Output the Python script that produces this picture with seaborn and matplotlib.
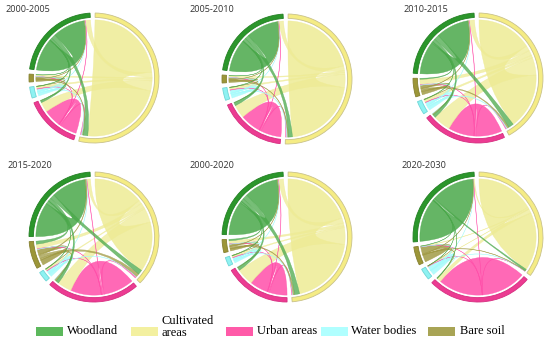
import numpy as np
import matplotlib
matplotlib.use("Agg")
import matplotlib.pyplot as plt
from matplotlib.path import Path
from matplotlib.patches import PathPatch, Rectangle, Wedge
import seaborn as sns

# class order round the circle, clockwise from the top
classes = ["Cultivated areas", "Urban areas", "Water bodies", "Bare soil", "Woodland"]
periods = ["2000-2005", "2005-2010", "2010-2015", "2015-2020", "2000-2020", "2020-2030"]

# land transfer matrices (rows = from, cols = to), same order as classes
m_2000_2005 = [[82, 10, 2, 1.5, 5],
               [1, 17, 0.3, 0.3, 0.5],
               [1, 0.3, 2.5, 0.2, 0.3],
               [0.8, 0.3, 0.2, 1.5, 0.3],
               [4.5, 2, 0.5, 0.3, 32]]
m_2005_2010 = [[74, 13, 2, 1.5, 4.5],
               [1, 20, 0.3, 0.3, 0.5],
               [1, 0.3, 3, 0.2, 0.3],
               [0.8, 0.3, 0.2, 1.5, 0.3],
               [4, 3, 0.5, 0.3, 31.5]]
m_2010_2015 = [[54, 17, 2.5, 5, 5],
               [1, 25, 0.3, 0.5, 0.5],
               [1, 0.5, 3, 0.3, 0.3],
               [1.5, 1, 0.3, 3, 0.5],
               [5, 3, 0.5, 1, 32]]
m_2015_2020 = [[49, 14, 1.5, 4.5, 3.5],
               [1.5, 30, 0.3, 0.5, 0.5],
               [0.5, 0.5, 2.5, 0.3, 0.3],
               [3, 1.5, 0.3, 5, 1],
               [4.5, 3, 0.5, 3, 34]]
m_2000_2020 = [[70, 17, 1.5, 3, 5],
               [1, 18, 0.3, 0.3, 0.5],
               [0.5, 0.5, 2, 0.2, 0.3],
               [1.5, 0.5, 0.2, 2, 0.5],
               [5, 3, 0.5, 1.5, 34]]
m_2020_2030 = [[58, 4, 0.3, 0.5, 1],
               [0.2, 44, 0.1, 0.2, 0.2],
               [0.2, 0.2, 4.5, 0.1, 0.1],
               [0.5, 0.3, 0.1, 7, 0.3],
               [1.5, 0.5, 0.2, 0.3, 43]]
matrices = [m_2000_2005, m_2005_2010, m_2010_2015, m_2015_2020, m_2000_2020, m_2020_2030]

ring_cols = sns.color_palette(["#f5ec84", "#ec3b92", "#8ef2f2", "#9c9638", "#2b962b"])
ribbon_cols = sns.color_palette(["#eeeb94", "#ff4faa", "#a6fbfb", "#a19b45", "#4aa84a"])
ring_edges = ["#c9c28a", "#d62f80", "#6fd6d6", "#858030", "#237f23"]

# legend order
leg_names = ["Woodland", "Cultivated\nareas", "Urban areas", "Water bodies", "Bare soil"]
leg_cols = ["#5cb85c", "#f3f0a0", "#ff5aa8", "#b0ffff", "#a8a455"]

sns.set_theme(style="white")
W, H = 550, 341
fig = plt.figure(figsize=(5.5, 3.41), dpi=100)

GAP = 4.5
START = 1.0
R_IN = 0.93


def pt(deg, r):
    t = np.radians(90 - deg)
    return (r * np.cos(t), r * np.sin(t))


def arc(a, b, r, n=40):
    return [pt(d, r) for d in np.linspace(a, b, n)]


def ribbon(ax, s1, s2, color, alpha):
    a1, a2 = s1
    b1, b2 = s2
    verts = arc(a1, a2, R_IN)
    codes = [Path.MOVETO] + [Path.LINETO] * (len(verts) - 1)
    verts += [(0, 0), pt(b1, R_IN)]
    codes += [Path.CURVE3, Path.CURVE3]
    a = arc(b1, b2, R_IN)[1:]
    verts += a
    codes += [Path.LINETO] * len(a)
    verts += [(0, 0), pt(a1, R_IN), pt(a1, R_IN)]
    codes += [Path.CURVE3, Path.CURVE3, Path.CLOSEPOLY]
    ax.add_patch(PathPatch(Path(verts, codes), facecolor=color, edgecolor=color,
                           lw=0.3, alpha=alpha))


def chord(ax, m):
    m = np.array(m, dtype=float)
    n = len(m)
    size = m.sum(axis=1) + m.sum(axis=0)
    scale = (360 - n * GAP) / size.sum()
    starts = START + np.concatenate([[0], np.cumsum(size * scale + GAP)[:-1]])
    seg_out = {}
    seg_in = {}
    for i in range(n):
        pos = starts[i]
        # own flow out, flows out, own flow in, flows in
        w = m[i, i] * scale
        seg_out[(i, i)] = (pos, pos + w)
        pos += w
        for j in sorted([j for j in range(n) if j != i], key=lambda j: -((j - i) % n)):
            w = m[i, j] * scale
            seg_out[(i, j)] = (pos, pos + w)
            pos += w
        w = m[i, i] * scale
        seg_in[(i, i)] = (pos, pos + w)
        pos += w
        for j in sorted([j for j in range(n) if j != i], key=lambda j: (i - j) % n):
            w = m[j, i] * scale
            seg_in[(j, i)] = (pos, pos + w)
            pos += w
        # outer ring
        a, b = starts[i], starts[i] + size[i] * scale
        ax.add_patch(Wedge((0, 0), 1.04, 90 - b, 90 - a, width=0.07,
                           facecolor=ring_cols[i], edgecolor=ring_edges[i], lw=0.6))
    # self flows first, exchanges on top
    for i in range(n):
        ribbon(ax, seg_out[(i, i)], seg_in[(i, i)], ribbon_cols[i], 0.85)
    for i in range(n):
        for j in range(n):
            if i != j and m[i, j] > 0:
                ribbon(ax, seg_out[(i, j)], seg_in[(i, j)], ribbon_cols[i], 0.75)


centers = [(94, 78), (287, 79), (478, 78), (94, 237), (287, 237), (478, 237)]
title_xy = [(5, 10), (190, 10), (403, 10), (7, 166), (190, 166), (402, 165)]
side = 137.5

for k in range(6):
    cx, cy = centers[k]
    ax = fig.add_axes([(cx - side / 2) / W, 1 - (cy + side / 2) / H, side / W, side / H])
    ax.set_xlim(-1.1, 1.1)
    ax.set_ylim(-1.1, 1.1)
    ax.set_aspect("equal")
    ax.axis("off")
    chord(ax, matrices[k])
    tx, ty = title_xy[k]
    fig.text(tx / W, 1 - ty / H, periods[k], ha="left", va="center",
             fontsize=6.6, color="#333333", family="Open Sans")

# legend along the bottom
patch_x = [36, 131, 226, 321, 428]
text_x = [67, 162, 257, 351, 460]
for k in range(5):
    fig.add_artist(Rectangle((patch_x[k] / W, 1 - 336 / H), 27 / W, 9.3 / H,
                             transform=fig.transFigure, facecolor=leg_cols[k],
                             edgecolor="none"))
    fig.text(text_x[k] / W, 1 - (327 if k == 1 else 331) / H, leg_names[k],
             ha="left", va="center", fontsize=9, family="Liberation Serif",
             color="black", linespacing=0.95)

fig.savefig("out.png", dpi=100)
